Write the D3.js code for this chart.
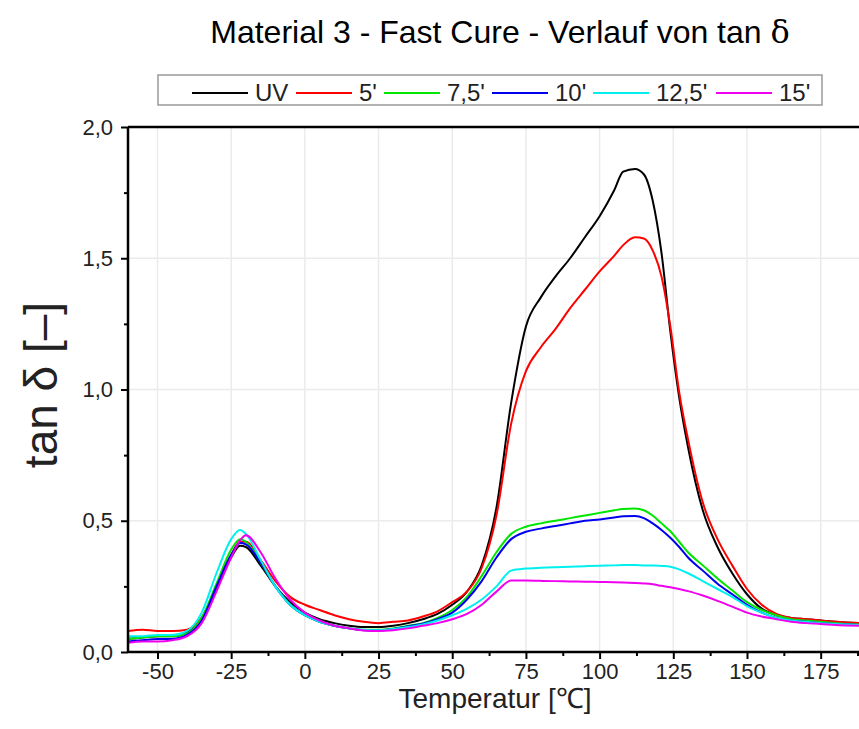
<!DOCTYPE html>
<html>
<head>
<meta charset="utf-8">
<script src="https://cdn.jsdelivr.net/npm/d3@7"></script>
<style>
  body { margin: 0; background: #fff; }
  svg { display: block; font-family: "Liberation Sans", Arial, sans-serif; }
</style>
</head>
<body>
<script>
// Temperaturen [°C]
var temps = [-60,-55,-50,-45,-40,-35,-30,-25,-22,-20,-15,-10,-5,0,5,10,15,20,25,30,35,40,45,50,55,60,65,70,75,80,85,90,95,100,105,108,112,115,118,121,124,127,130,135,140,145,150,155,160,165,170,175,180,188]

// tan delta je Serie
var uv   = [0.05,0.055,0.06,0.06,0.075,0.13,0.24,0.36,0.405,0.40,0.33,0.25,0.19,0.15,0.125,0.11,0.10,0.095,0.095,0.10,0.11,0.125,0.145,0.18,0.23,0.33,0.55,0.95,1.24,1.35,1.43,1.50,1.58,1.66,1.76,1.83,1.84,1.82,1.72,1.52,1.22,0.97,0.78,0.54,0.40,0.30,0.22,0.165,0.14,0.13,0.125,0.12,0.115,0.11]
var m5   = [0.08,0.085,0.08,0.08,0.085,0.13,0.25,0.37,0.42,0.42,0.35,0.27,0.21,0.18,0.16,0.14,0.125,0.115,0.11,0.115,0.12,0.135,0.155,0.19,0.23,0.32,0.52,0.87,1.07,1.16,1.23,1.31,1.38,1.45,1.51,1.55,1.58,1.575,1.53,1.43,1.24,0.99,0.81,0.57,0.43,0.33,0.24,0.18,0.145,0.13,0.125,0.12,0.115,0.11]
var m7_5 = [0.05,0.055,0.06,0.06,0.07,0.13,0.26,0.39,0.43,0.42,0.34,0.25,0.18,0.14,0.115,0.10,0.09,0.085,0.085,0.09,0.10,0.11,0.13,0.16,0.21,0.29,0.38,0.45,0.477,0.49,0.50,0.51,0.52,0.53,0.54,0.545,0.547,0.54,0.52,0.49,0.46,0.42,0.38,0.33,0.28,0.235,0.19,0.16,0.14,0.125,0.12,0.115,0.11,0.105]
var m10  = [0.04,0.045,0.05,0.05,0.065,0.12,0.25,0.37,0.415,0.41,0.34,0.25,0.18,0.14,0.115,0.10,0.09,0.083,0.082,0.088,0.098,0.108,0.125,0.15,0.20,0.27,0.36,0.43,0.458,0.47,0.48,0.49,0.50,0.505,0.512,0.517,0.518,0.51,0.49,0.465,0.435,0.40,0.36,0.31,0.26,0.22,0.18,0.15,0.13,0.12,0.115,0.11,0.107,0.103]
var m12_5= [0.06,0.06,0.065,0.065,0.08,0.15,0.30,0.43,0.465,0.45,0.35,0.25,0.18,0.14,0.115,0.10,0.09,0.085,0.083,0.088,0.095,0.105,0.12,0.14,0.165,0.20,0.25,0.31,0.318,0.321,0.323,0.325,0.327,0.329,0.33,0.331,0.331,0.33,0.33,0.328,0.325,0.315,0.30,0.27,0.24,0.21,0.175,0.15,0.13,0.12,0.115,0.11,0.107,0.103]
var m15  = [0.035,0.04,0.04,0.045,0.06,0.11,0.23,0.36,0.425,0.445,0.38,0.28,0.20,0.15,0.12,0.10,0.09,0.082,0.08,0.083,0.09,0.10,0.11,0.125,0.145,0.18,0.23,0.272,0.272,0.271,0.27,0.269,0.268,0.267,0.266,0.265,0.263,0.261,0.258,0.252,0.247,0.24,0.232,0.215,0.195,0.173,0.15,0.135,0.125,0.115,0.11,0.107,0.103,0.10]

var labels = ["UV", "5'", "7,5'", "10'", "12,5'", "15'"]
var farben = ["#000000", "#ff0000", "#00e600", "#0000f0", "#00f0f0", "#f000f0"]
var serien = [uv, m5, m7_5, m10, m12_5, m15]

var xTicks = [-50,-25,0,25,50,75,100,125,150,175]
var xMinor = [-37.5,-12.5,12.5,37.5,62.5,87.5,112.5,137.5,162.5,187.5]
var yTicks = [0,0.5,1,1.5,2]
var yMinor = [0.25,0.75,1.25,1.75]

var W = 859, H = 729
var pL = 128, pT = 127, pB = 652, pR = 859

var svg = d3.select("body").append("svg")
    .attr("width", W).attr("height", H)

var x = d3.scaleLinear().domain([-60, 188]).range([pL, pR])
var y = d3.scaleLinear().domain([0, 2]).range([pB, pT])

var komma = function(d){ return d3.format(".1f")(d).replace(".", ",") }
var ganz = function(d){ return String(d) }

// Gitter
svg.append("g").selectAll("line").data(xTicks).join("line")
    .attr("x1", d => x(d)).attr("x2", d => x(d))
    .attr("y1", pT).attr("y2", pB)
    .attr("stroke", "#ebebeb").attr("stroke-width", 1.5)
svg.append("g").selectAll("line").data(yTicks.slice(1, 4)).join("line")
    .attr("x1", pL).attr("x2", pR)
    .attr("y1", d => y(d)).attr("y2", d => y(d))
    .attr("stroke", "#ebebeb").attr("stroke-width", 1.5)

// Kurven
svg.append("clipPath").attr("id", "clip")
  .append("rect").attr("x", pL).attr("y", pT - 5).attr("width", pR - pL).attr("height", pB - pT + 5)

var linie = d3.line()
    .x((d, i) => x(temps[i]))
    .y(d => y(d))
    .curve(d3.curveMonotoneX)

var kurven = svg.append("g").attr("clip-path", "url(#clip)")
serien.forEach(function(s, i){
    kurven.append("path")
        .datum(s)
        .attr("fill", "none")
        .attr("stroke", farben[i])
        .attr("stroke-width", 2)
        .attr("d", linie)
})

// Achsen
var xAchse = svg.append("g").attr("transform", "translate(0," + pB + ")")
    .call(d3.axisBottom(x).tickValues(xTicks).tickSize(7).tickPadding(4).tickFormat(ganz))
var xMin = svg.append("g").attr("transform", "translate(0," + pB + ")")
    .call(d3.axisBottom(x).tickValues(xMinor).tickSize(4).tickFormat(""))
var yAchse = svg.append("g").attr("transform", "translate(" + pL + ",0)")
    .call(d3.axisLeft(y).tickValues(yTicks).tickSize(7).tickPadding(8).tickFormat(komma))
var yMin = svg.append("g").attr("transform", "translate(" + pL + ",0)")
    .call(d3.axisLeft(y).tickValues(yMinor).tickSize(4).tickFormat(""))

;[xAchse, xMin, yAchse, yMin].forEach(function(a){
    a.attr("font-size", 22).attr("font-family", "'Liberation Sans', Arial, sans-serif")
    a.select(".domain").remove()
    a.selectAll(".tick line").attr("stroke", "#000").attr("stroke-width", 2)
    a.selectAll(".tick text").attr("fill", "#222")
})

// Rahmen
svg.append("line").attr("x1", pL).attr("x2", pR).attr("y1", pB).attr("y2", pB)
    .attr("stroke", "#000").attr("stroke-width", 2.5)
svg.append("line").attr("x1", pL).attr("x2", pR).attr("y1", pT).attr("y2", pT)
    .attr("stroke", "#000").attr("stroke-width", 2.5)
svg.append("line").attr("x1", pL).attr("x2", pL).attr("y1", pT).attr("y2", pB)
    .attr("stroke", "#000").attr("stroke-width", 2.5)

// Titel
var titel = svg.append("text").attr("x", 500).attr("y", 43)
    .attr("text-anchor", "middle").attr("font-size", 32).attr("fill", "#000")
titel.append("tspan").text("Material 3 - Fast Cure - Verlauf von tan ")
titel.append("tspan").attr("font-family", "'DejaVu Serif', serif").text("δ")

// Achsentitel
svg.append("text").attr("x", 495).attr("y", 708)
    .attr("text-anchor", "middle").attr("font-size", 28).attr("fill", "#222")
    .text("Temperatur [℃]")
svg.append("text")
    .attr("transform", "translate(57,385) rotate(-90)")
    .attr("text-anchor", "middle").attr("font-size", 46).attr("fill", "#222")
    .text("tan δ [–]")

// Legende
var leg = svg.append("g")
leg.append("rect").attr("x", 158).attr("y", 75).attr("width", 664).attr("height", 30)
    .attr("fill", "#fff").attr("stroke", "#999").attr("stroke-width", 1.5)
var legX = [192, 296, 384, 492, 593, 716]
labels.forEach(function(l, i){
    leg.append("line").attr("x1", legX[i]).attr("x2", legX[i] + 56)
        .attr("y1", 93).attr("y2", 93)
        .attr("stroke", farben[i]).attr("stroke-width", 2)
    leg.append("text").attr("x", legX[i] + 63).attr("y", 101)
        .attr("font-size", 24).attr("fill", "#222").text(l)
})
</script>
</body>
</html>
